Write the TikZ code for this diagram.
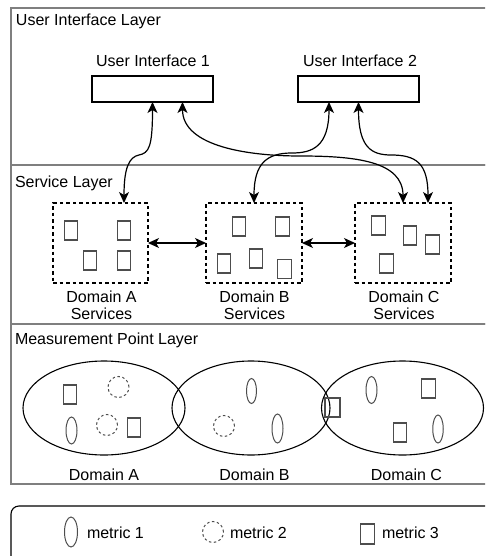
\documentclass[tikz,border=0pt]{standalone}
\usepackage{fontspec}
\setmainfont{Liberation Sans}
\usetikzlibrary{arrows.meta,shapes.geometric}
\definecolor{layergray}{HTML}{7F7F7F}
\definecolor{itemgray}{HTML}{4D4D4D}
\begin{document}
\begin{tikzpicture}[x=1pt,y=-1pt,
  every node/.style={font=\fontsize{16}{17}\selectfont, inner sep=0pt, outer sep=0pt},
  layer/.style={draw=layergray, line width=1.2pt},
  txt/.style={anchor=base},
  uibox/.style={draw, line width=1.1pt, minimum width=121pt, minimum height=26pt},
  domainbox/.style={draw, dash pattern=on 3.5pt off 3pt, line width=1.1pt,
    minimum width=95pt, minimum height=80pt},
  mthree/.style={draw=itemgray, line width=1.1pt, minimum width=13.5pt, minimum height=19pt},
  mone/.style={ellipse, draw=itemgray, line width=1pt, minimum width=11pt, minimum height=27pt},
  mtwo/.style={circle, draw=itemgray, line width=1pt, dash pattern=on 2.5pt off 2.5pt, minimum size=21pt},
  domainshape/.style={ellipse, draw, line width=1.1pt, minimum width=162pt, minimum height=94pt},
  conn/.style={line width=1.2pt,
    {Stealth[length=11pt,width=10pt,inset=3pt]}-{Stealth[length=11pt,width=10pt,inset=3pt]}}
]
\useasboundingbox (0,0) rectangle (485,556);
\clip (0,0) rectangle (485,556);

% layers
\draw[layer] (11,8) rectangle (520,165);
\draw[layer] (11,165) rectangle (520,324);
\draw[layer] (11,324) rectangle (520,484);
\node[txt, anchor=base west] (lui) at (16,26) {User Interface Layer};
\node[txt, anchor=base west] (lsv) at (15,187) {Service Layer};
\node[txt, anchor=base west] (lmp) at (15,344) {Measurement Point Layer};

% user interfaces
\node[uibox] (ui1) at (152.5,89) {};
\node[uibox] (ui2) at (358.5,89) {};
\node[txt] (tui1) at (153,67) {User Interface 1};
\node[txt] (tui2) at (360,67) {User Interface 2};

% service domains
\node[domainbox] (doma) at (100.5,243) {};
\node[domainbox, minimum width=96pt] (domb) at (254,243) {};
\node[domainbox, minimum width=96pt] (domc) at (403,243) {};
\node[align=center, anchor=north] (tsa) at (101.5,291) {Domain A\\Services};
\node[align=center, anchor=north] (tsb) at (254.5,291) {Domain B\\Services};
\node[align=center, anchor=north] (tsc) at (404,291) {Domain C\\Services};

% services inside domains
\node[mthree] (sa1) at (71,230.5) {};
\node[mthree] (sa2) at (124,230.5) {};
\node[mthree] (sa3) at (90,260.5) {};
\node[mthree] (sa4) at (124,260.5) {};
\node[mthree] (sb1) at (239,226.5) {};
\node[mthree] (sb2) at (282.5,226.5) {};
\node[mthree] (sb3) at (224,263.5) {};
\node[mthree] (sb4) at (256,258.5) {};
\node[mthree] (sb5) at (284.5,269) {};
\node[mthree] (sc1) at (378.5,225.5) {};
\node[mthree] (sc2) at (410,235.5) {};
\node[mthree] (sc3) at (432.5,244.5) {};
\node[mthree] (sc4) at (386.5,263.5) {};

% connectors
\draw[conn] (ui1.south) .. controls +(0,45) and +(10,-2) .. (139,155)
  .. controls +(-10,2) and +(0,-35) .. ([xshift=23.5pt]doma.north);
\draw[conn] ([xshift=30pt]ui1.south) .. controls +(0,45) and +(-50,0) .. (300,156)
  .. controls +(55,0) and +(0,-42) .. (domc.north);
\draw[conn] ([xshift=-29.5pt]ui2.south) .. controls +(0,45) and +(20,0) .. (292,153)
  .. controls +(-25,0) and +(0,-40) .. (domb.north);
\draw[conn] (ui2.south) .. controls +(0,45) and +(-20,0) .. (391,155)
  .. controls +(25,0) and +(0,-40) .. ([xshift=25pt]domc.north);
\draw[conn] (doma.east) -- (domb.west);
\draw[conn] (domb.east) -- (domc.west);

% measurement domains
\node[domainshape] (ma) at (104,408) {};
\node[domainshape, minimum width=158pt] (mb) at (251,408) {};
\node[domainshape] (mc) at (402.5,408) {};
\node[txt] (tma) at (104,480) {Domain A};
\node[txt] (tmb) at (254.5,480) {Domain B};
\node[txt] (tmc) at (406.5,480) {Domain C};

% measurement points
\node[mthree] (pa1) at (70,394.5) {};
\node[mtwo] (pa2) at (118.5,387) {};
\node[mone] (pa3) at (71.5,430.5) {};
\node[mtwo] (pa4) at (107,425) {};
\node[mthree] (pa5) at (134,427.5) {};
\node[mone, minimum height=25pt, minimum width=10pt] (pb1) at (251.5,391) {};
\node[mtwo] (pb2) at (224,426) {};
\node[mone, minimum height=29pt] (pb3) at (277.5,428.5) {};
\node[mthree, minimum width=15pt] (pab) at (332.5,407.5) {};
\node[mone] (pc1) at (371.5,390) {};
\node[mthree] (pc2) at (428.5,388.5) {};
\node[mthree] (pc3) at (400,432.5) {};
\node[mone, minimum height=28pt, minimum width=10.5pt] (pc4) at (438,429) {};

% legend
\draw[rounded corners=8pt, line width=1.1pt] (11,506) rectangle (530,590);
\node[mone, minimum width=13pt, minimum height=30pt] (k1) at (71,532) {};
\node[txt, anchor=base west] (tk1) at (87,538) {metric 1};
\node[mtwo] (k2) at (213,532) {};
\node[txt, anchor=base west] (tk2) at (230,538) {metric 2};
\node[mthree, minimum height=20pt] (k3) at (367.5,534) {};
\node[txt, anchor=base west] (tk3) at (382,538) {metric 3};
\end{tikzpicture}
\end{document}
